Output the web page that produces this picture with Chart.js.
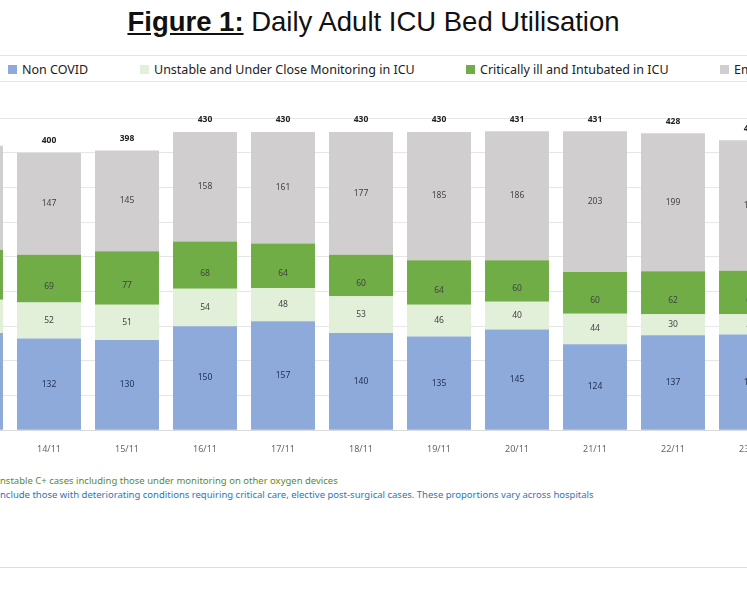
<!DOCTYPE html>
<html>
<head>
<meta charset="utf-8">
<script src="https://cdn.jsdelivr.net/npm/chart.js"></script>
<style>
  body { margin: 0; width: 747px; height: 598px; overflow: hidden; background: #fff; position: relative; font-family: "Liberation Sans", Arial, sans-serif; }
  #title { position: absolute; top: 6px; left: 0; width: 747px; text-align: center; font-size: 27.5px; color: #111; }
  #title b { text-decoration: underline; }
  #legend { position: absolute; top: 55px; left: 0; width: 747px; height: 25px; border-top: 1px solid #e4e4e4; border-bottom: 1px solid #e4e4e4; }
  .lg { position: absolute; top: 5px; font-family: "Noto Sans", sans-serif; font-size: 12.5px; color: #222; white-space: nowrap; }
  .lg i { display: inline-block; width: 9px; height: 9px; margin-right: 5px; }
  #wrap { position: absolute; left: -68px; top: 101px; width: 858px; height: 360px; }
  .note { position: absolute; left: 0; font-family: "Noto Sans", sans-serif; font-size: 9.5px; white-space: nowrap; }
  #line { position: absolute; left: 0; top: 567px; width: 747px; border-top: 1px solid #ddd; }
</style>
</head>
<body>
<div id="title"><b>Figure 1:</b> Daily Adult ICU Bed Utilisation</div>
<div id="legend"></div>
<div id="wrap"><canvas id="myChart"></canvas></div>
<div class="note" style="top:474px;color:#5a8a2e">nstable C+ cases including those under monitoring on other oxygen devices</div>
<div class="note" style="top:488px;color:#2e75b6">nclude those with deteriorating conditions requiring critical care, elective post-surgical cases. These proportions vary across hospitals</div>
<div id="line"></div>
<script>
var days = ["13/11", "14/11", "15/11", "16/11", "17/11", "18/11", "19/11", "20/11", "21/11", "22/11", "23/11"];
var nonCovid = [140, 132, 130, 150, 157, 140, 135, 145, 124, 137, 138];
var unstable = [48, 52, 51, 54, 48, 53, 46, 40, 44, 30, 29];
var critical = [72, 69, 77, 68, 64, 60, 64, 60, 60, 62, 63];
var empty = [150, 147, 145, 158, 161, 177, 185, 186, 203, 199, 188];
var totals = [410, 400, 398, 430, 430, 430, 430, 431, 431, 428, 418];
var names = ["Non COVID", "Unstable and Under Close Monitoring in ICU", "Critically ill and Intubated in ICU", "Empty Beds"];
var colors = ["#8eaadb", "#e2efd9", "#70ad47", "#d0cece"];
var legendX = [8, 140, 466, 720];

var lg = document.getElementById("legend");
names.forEach(function (n, i) {
  var d = document.createElement("div");
  d.className = "lg";
  d.style.left = legendX[i] + "px";
  d.innerHTML = '<i style="background:' + colors[i] + '"></i>' + n;
  lg.appendChild(d);
});

var series = [nonCovid, unstable, critical, empty];

var labelPlugin = {
  id: "labels",
  afterDatasetsDraw: function (chart) {
    var ctx = chart.ctx;
    ctx.save();
    ctx.textAlign = "center";
    ctx.textBaseline = "middle";
    ctx.font = "8.5px 'Noto Sans', sans-serif";
    chart.data.datasets.forEach(function (ds, i) {
      var meta = chart.getDatasetMeta(i);
      meta.data.forEach(function (bar, j) {
        ctx.fillStyle = i === 0 ? "#1f2d4d" : "#444";
        ctx.fillText(ds.data[j], bar.x, (bar.y + bar.base) / 2 + (i === 2 ? 8 : 0));
      });
    });
    var top = chart.getDatasetMeta(3);
    ctx.fillStyle = "#222";
    ctx.font = "bold 8.5px 'Noto Sans', sans-serif";
    top.data.forEach(function (bar, j) {
      ctx.fillText(totals[j], bar.x, bar.y - 12);
    });
    ctx.restore();
  }
};

new Chart(document.getElementById("myChart").getContext("2d"), {
  type: "bar",
  data: {
    labels: days,
    datasets: series.map(function (s, i) {
      return { label: names[i], data: s, backgroundColor: colors[i], barPercentage: 0.82, categoryPercentage: 1 };
    })
  },
  options: {
    responsive: true,
    maintainAspectRatio: false,
    animation: false,
    layout: { padding: { top: 17, left: 0, right: 0 } },
    plugins: { legend: { display: false }, tooltip: { enabled: false } },
    scales: {
      x: {
        stacked: true,
        grid: { display: false },
        border: { color: "#d9d9d9" },
        ticks: { color: "#666", font: { size: 9, family: "Noto Sans" }, padding: 6 }
      },
      y: {
        stacked: true,
        min: 0,
        max: 450,
        display: true,
        ticks: { display: false, stepSize: 50 },
        border: { display: false },
        grid: { color: "#e6e6e6", drawTicks: false }
      }
    }
  },
  plugins: [labelPlugin]
});
</script>
</body>
</html>
